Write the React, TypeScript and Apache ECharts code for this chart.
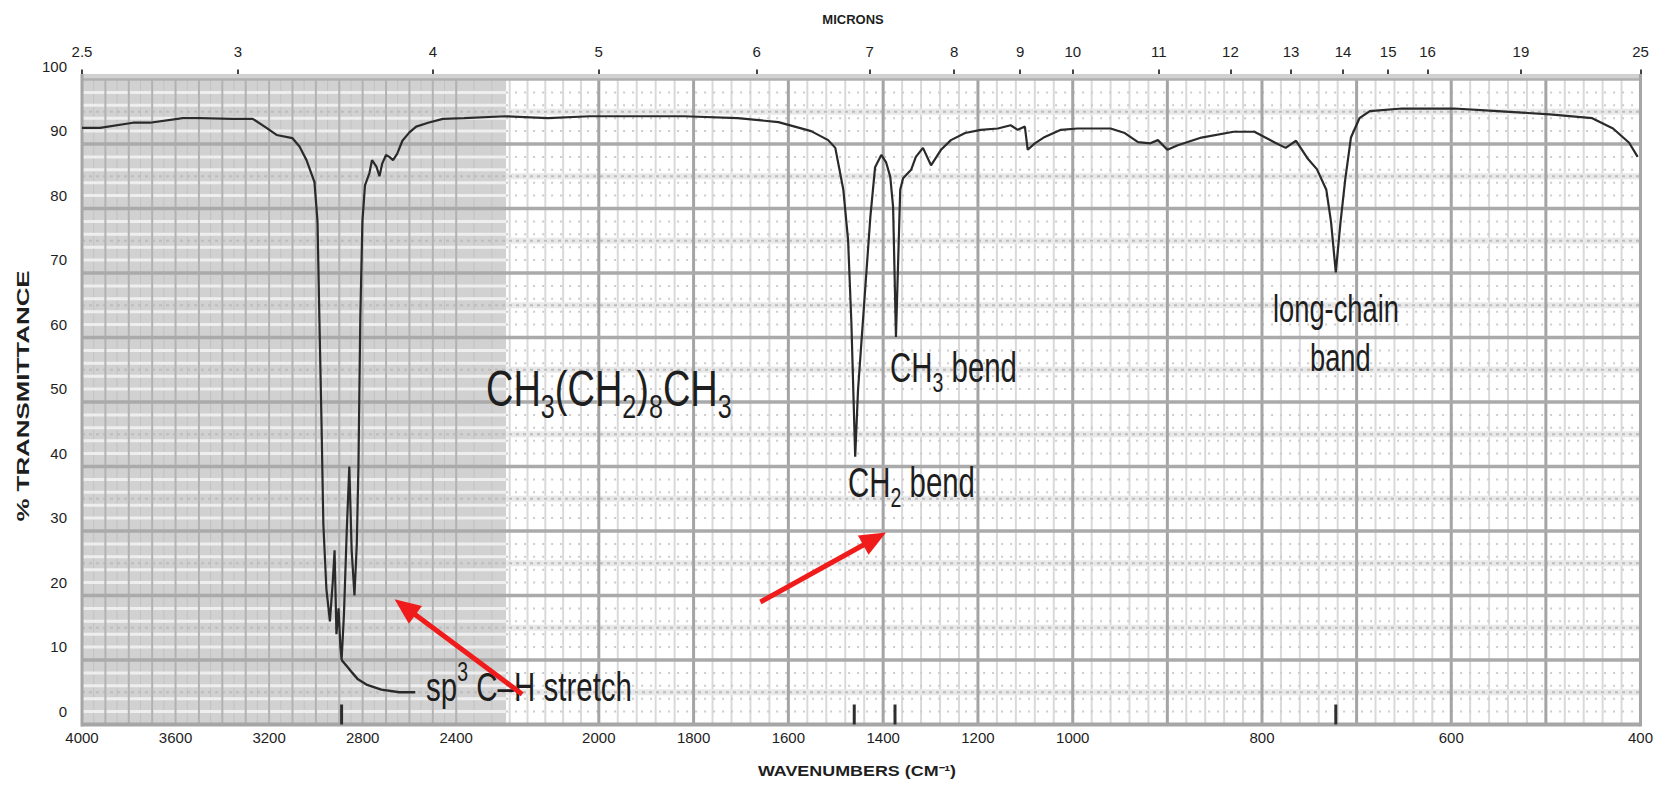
import React, { useEffect, useRef } from 'react';
import * as echarts from 'echarts';

// ---------- axis design: piecewise-linear wavenumber paper scale ----------
const SCALE_WN = [4000, 2400, 2000, 1000, 400];
const SCALE_POS = [0, 240.1, 331.6, 635.7, 1000];

const BOTTOM_TICKS = [4000, 3600, 3200, 2800, 2400, 2000, 1800, 1600, 1400, 1200, 1000, 800, 600, 400];
const MICRON_TICKS = [2.5, 3, 4, 5, 6, 7, 8, 9, 10, 11, 12, 13, 14, 15, 16, 19, 25];

// ---------- spectrum (wavenumber cm-1, % transmittance) ----------
const SPECTRUM_WN = [
  4000, 3923, 3782, 3710, 3569, 3497, 3356, 3270, 3211, 3168, 3100, 3070, 3040, 3006, 2993, 2985, 2976, 2968,
  2955, 2940, 2928, 2920, 2912, 2903, 2895, 2890, 2880, 2868, 2857, 2847, 2835, 2825, 2818, 2810, 2801, 2790,
  2771, 2760, 2741, 2728, 2716, 2700, 2686, 2670, 2652, 2630, 2600, 2571, 2520, 2457, 2378, 2260, 2143, 2025,
  1929, 1819, 1707, 1621, 1552, 1516, 1501, 1484, 1474, 1467, 1459, 1453, 1438, 1427, 1417, 1404, 1394, 1385,
  1379, 1373, 1364, 1358, 1341, 1331, 1316, 1299, 1278, 1257, 1227, 1194, 1158, 1131, 1116, 1101, 1095, 1080,
  1059, 1025, 995, 960, 945, 931, 918, 910, 900, 889, 864, 830, 808, 786, 775, 764, 752, 742, 732, 727, 722,
  717, 712, 706, 697, 686, 652, 597, 551, 496, 451, 429, 412, 403,
];
const SPECTRUM_T = [
  92.5, 92.5, 93.3, 93.3, 94.0, 94.0, 93.9, 93.9, 92.5, 91.4, 90.9, 89.6, 87.5, 84.1, 78, 63, 47, 31,
  21, 16, 22, 27, 14, 18, 12, 10, 17, 30, 40, 27, 20, 28, 40, 63, 78, 83.6,
  85.5, 87.5, 86.5, 85, 87, 88.3, 88, 87.5, 88.5, 90.5, 91.8, 92.7, 93.3, 93.9, 94.0, 94.3, 94.0, 94.3,
  94.3, 94.3, 94.0, 93.4, 92.0, 90.6, 89.4, 82.9, 75.1, 62.2, 41.5, 51.9, 67.4, 78.7, 86.4, 88.3, 87.2, 84.9,
  80.2, 60.1, 82.9, 84.7, 86.0, 88.0, 89.4, 86.7, 89.1, 90.6, 91.7, 92.2, 92.4, 92.9, 92.2, 92.7, 89.1, 90.1,
  91.1, 92.2, 92.4, 92.4, 91.7, 90.3, 90.1, 90.6, 89.1, 89.8, 91.0, 91.9, 91.9, 90.2, 89.4, 90.5, 87.8, 86.1, 82.9, 77.9, 70.1,
  77.9, 84.5, 91.0, 94.0, 95.1, 95.5, 95.5, 95.1, 94.6, 94.0, 92.4, 90.2, 88.0,
];

// leader trace running from the C-H minimum towards the label
const LEADER_WN = [2890, 2862, 2844, 2820, 2784, 2720, 2643, 2575];
const LEADER_T = [10, 8.8, 8.0, 7.0, 6.2, 5.4, 5.0, 5.0];

// peak marks on the bottom edge
const PEAK_MARKERS_WN = [2890, 1461, 1375, 722];

// red annotation arrows (from -> to, in wavenumber / %T)
const ARROW_FROM_WN = [2215, 1659];
const ARROW_FROM_T = [4.7, 19.0];
const ARROW_TO_WN = [2619, 1418];
const ARROW_TO_T = [18.2, 28.8];

// chart-paper grid design
const SHADE_END_WN = 2260;
const V_SEGMENTS = [
  { from: 4000, to: 2400, minor: 50, major: 100 },
  { from: 2400, to: 2000, minor: 50, major: 400 },
  { from: 2000, to: 1000, minor: 40, major: 200 },
  { from: 1000, to: 400, minor: 20, major: 100 },
];

const FONT = "'Liberation Sans', Arial, Helvetica, sans-serif";
const INK = '#1e1e1e';

function wnToPos(wn: number): number {
  for (let i = 0; i < SCALE_WN.length - 1; i++) {
    const a = SCALE_WN[i];
    const b = SCALE_WN[i + 1];
    if (wn <= a && wn >= b) {
      return SCALE_POS[i] + ((a - wn) / (a - b)) * (SCALE_POS[i + 1] - SCALE_POS[i]);
    }
  }
  return wn > SCALE_WN[0] ? SCALE_POS[0] : SCALE_POS[SCALE_POS.length - 1];
}

function nearestLabel(v: number, ticks: number[], toPos: (t: number) => number): string {
  let best = ticks[0];
  let d = Infinity;
  for (const t of ticks) {
    const dd = Math.abs(toPos(t) - v);
    if (dd < d) {
      d = dd;
      best = t;
    }
  }
  return String(best);
}

const micronPos = (m: number) => wnToPos(10000 / m);

function renderGrid(params: any, api: any) {
  const cs = params.coordSys;
  const L = cs.x;
  const R = cs.x + cs.width;
  const T = cs.y;
  const B = cs.y + cs.height;
  const X = (wn: number) => api.coord([wnToPos(wn), 0])[0];
  const Y = (t: number) => api.coord([0, t])[1];
  const S = X(SHADE_END_WN);
  const ch: any[] = [];
  const ln = (x1: number, y1: number, x2: number, y2: number, stroke: string, lineWidth: number, lineDash?: number[]) =>
    ch.push({ type: 'line', shape: { x1, y1, x2, y2 }, style: { stroke, lineWidth, lineDash: lineDash || null } });

  ch.push({ type: 'rect', shape: { x: L, y: T, width: S - L, height: B - T }, style: { fill: '#d1d1d1' } });

  const verts: { x: number; major: boolean; left: boolean }[] = [];
  V_SEGMENTS.forEach((seg) => {
    for (let wn = seg.from; wn > seg.to; wn -= seg.minor) {
      verts.push({ x: X(wn), major: (seg.from - wn) % seg.major === 0, left: wn > SHADE_END_WN });
    }
  });
  verts.push({ x: X(400), major: true, left: false });

  verts.filter((v) => !v.major).forEach((v) => ln(v.x, T, v.x, B, v.left ? '#c2c2c2' : '#d9d9d9', v.left ? 1 : 2));

  for (let t = 2; t < 100; t += 2) {
    if (t % 10 === 0) continue;
    const y = Y(t);
    ln(L, y, S, y, '#eeeeee', 3);
    ln(S, y, R, y, '#cccccc', 2, [2, 7]);
  }
  for (let t = 5; t < 100; t += 10) {
    const y = Y(t);
    ln(S, y, R, y, '#e8e8e8', 6);
    ln(L, y, R, y, '#bdbdbd', 2, [3, 4]);
  }

  verts.filter((v) => v.major).forEach((v) => ln(v.x, T, v.x, B, v.left ? '#b2b2b2' : '#a4a4a4', v.left ? 2 : 3));

  for (let t = 10; t < 100; t += 10) ln(L, Y(t), R, Y(t), '#aaaaaa', 3.5);

  ch.push({ type: 'rect', shape: { x: L, y: T - 5.5, width: R - L, height: 5.5 }, style: { fill: '#d0d0d0' } });
  ln(L, T, R, T, '#b0b0b0', 2.5);
  ln(L, B, R, B, '#a6a6a6', 4);
  ln(L, T - 5.5, L, B + 2, '#a6a6a6', 3);
  ln(R, T - 5.5, R, B + 2, '#a6a6a6', 3);

  PEAK_MARKERS_WN.forEach((wn) => {
    const x = X(wn);
    ln(x, B - 20, x, B, '#2e2e2e', 3);
  });

  return { type: 'group', children: ch };
}

function richText(x: number, y: number, text: string, rich: any, scaleX: number) {
  return {
    type: 'text',
    x,
    y,
    scaleX,
    z: 10,
    silent: true,
    style: {
      text,
      rich,
      fontFamily: FONT,
      fill: INK,
      align: 'left',
      verticalAlign: 'middle',
    },
  };
}

const mainTok = (size: number) => ({ fontSize: size, lineHeight: size, fontFamily: FONT, fill: INK });
const subTok = (size: number, sub: number) => ({
  fontSize: sub,
  lineHeight: size,
  fontFamily: FONT,
  fill: INK,
  padding: [Math.round(size * 0.7), 0, 0, 0],
});
const supTok = (size: number, sup: number) => ({
  fontSize: sup,
  lineHeight: size,
  fontFamily: FONT,
  fill: INK,
  padding: [0, 0, Math.round(size * 0.72), 0],
});

const option: any = {
  animation: false,
  backgroundColor: '#ffffff',
  grid: { left: 82, right: 12, top: 79.5, bottom: 62.5, containLabel: false },
  xAxis: [
    {
      type: 'value',
      min: 0,
      max: 1000,
      position: 'bottom',
      axisLine: { show: false },
      axisTick: { show: false },
      splitLine: { show: false },
      axisLabel: {
        customValues: BOTTOM_TICKS.map(wnToPos),
        formatter: (v: number) => nearestLabel(v, BOTTOM_TICKS, wnToPos),
        margin: 5,
        fontSize: 15,
        color: INK,
        fontFamily: FONT,
        hideOverlap: false,
      },
    },
    {
      type: 'value',
      min: 0,
      max: 1000,
      position: 'top',
      axisLine: { show: false },
      splitLine: { show: false },
      axisTick: {
        show: true,
        customValues: MICRON_TICKS.map(micronPos),
        length: 10,
        lineStyle: { color: '#444444', width: 2 },
      },
      axisLabel: {
        customValues: MICRON_TICKS.map(micronPos),
        formatter: (v: number) => nearestLabel(v, MICRON_TICKS, micronPos),
        margin: 21,
        fontSize: 15,
        color: INK,
        fontFamily: FONT,
        hideOverlap: false,
      },
    },
  ],
  yAxis: {
    type: 'value',
    min: 0,
    max: 100,
    interval: 10,
    axisLine: { show: false },
    axisTick: { show: false },
    splitLine: { show: false },
    axisLabel: {
      margin: 15,
      fontSize: 15,
      color: INK,
      fontFamily: FONT,
      verticalAlign: 'bottom',
      lineHeight: 27,
    },
  },
  series: [
    {
      type: 'custom',
      renderItem: renderGrid,
      data: [[0, 0]],
      silent: true,
      z: 1,
    },
    {
      type: 'line',
      data: SPECTRUM_WN.map((wn, i) => [wnToPos(wn), SPECTRUM_T[i]]),
      showSymbol: false,
      symbol: 'none',
      lineStyle: { color: '#2a2a2a', width: 2.2 },
      silent: true,
      z: 5,
    },
    {
      type: 'line',
      data: LEADER_WN.map((wn, i) => [wnToPos(wn), LEADER_T[i]]),
      showSymbol: false,
      symbol: 'none',
      lineStyle: { color: '#2a2a2a', width: 2.4 },
      silent: true,
      z: 20,
      markLine: {
        silent: true,
        z: 20,
        symbol: ['none', 'triangle'],
        symbolSize: [22, 26],
        label: { show: false },
        lineStyle: { color: '#f01c1c', width: 5, type: 'solid' },
        emphasis: { disabled: true },
        data: ARROW_FROM_WN.map((wn, i) => [
          { coord: [wnToPos(wn), ARROW_FROM_T[i]] },
          { coord: [wnToPos(ARROW_TO_WN[i]), ARROW_TO_T[i]] },
        ]),
      },
    },
  ],
  graphic: [
    richText(486, 389, '{n|CH}{s|3}{n|(CH}{s|2}{n|)}{s|8}{n|CH}{s|3}', { n: mainTok(50), s: subTok(50, 33) }, 0.76),
    richText(890, 368, '{n|CH}{s|3}{n| bend}', { n: mainTok(42), s: subTok(42, 28) }, 0.7),
    richText(848, 483, '{n|CH}{s|2}{n| bend}', { n: mainTok(42), s: subTok(42, 28) }, 0.7),
    richText(1273, 309, '{n|long-chain}', { n: mainTok(39) }, 0.7),
    richText(1310, 358, '{n|band}', { n: mainTok(39) }, 0.7),
    richText(426, 687, '{n|sp}{p|3}{n| C–H stretch}', { n: mainTok(41), p: supTok(41, 27) }, 0.72),
    {
      type: 'text',
      x: 24,
      y: 396,
      rotation: Math.PI / 2,
      scaleX: 1.62,
      z: 10,
      silent: true,
      style: {
        text: '% TRANSMITTANCE',
        fontSize: 16,
        fontWeight: 'bold',
        fontFamily: FONT,
        fill: INK,
        align: 'center',
        verticalAlign: 'middle',
      },
    },
    {
      type: 'text',
      x: 857,
      y: 771,
      scaleX: 1.28,
      z: 10,
      silent: true,
      style: {
        text: 'WAVENUMBERS (CM⁻¹)',
        fontSize: 14,
        fontWeight: 'bold',
        fontFamily: FONT,
        fill: INK,
        align: 'center',
        verticalAlign: 'middle',
      },
    },
    {
      type: 'text',
      x: 853,
      y: 19,
      z: 10,
      silent: true,
      style: {
        text: 'MICRONS',
        fontSize: 13,
        fontWeight: 'bold',
        fontFamily: FONT,
        fill: INK,
        align: 'center',
        verticalAlign: 'middle',
      },
    },
  ],
};

export default function App() {
  const ref = useRef<HTMLDivElement>(null);
  useEffect(() => {
    const chart = echarts.init(ref.current as HTMLDivElement, null, { renderer: 'svg' });
    chart.setOption(option);
    return () => chart.dispose();
  }, []);
  return (
    <div
      ref={ref}
      style={{ position: 'fixed', left: 0, top: 0, width: 1656, height: 787, background: '#ffffff' }}
    />
  );
}
